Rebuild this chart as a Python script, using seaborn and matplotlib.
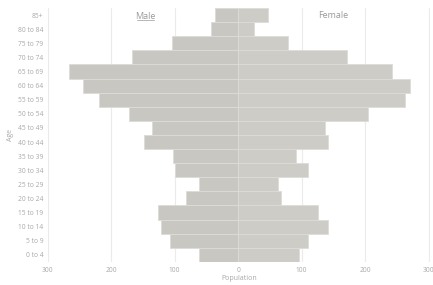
import matplotlib
matplotlib.use("Agg")
import matplotlib.pyplot as plt
import seaborn as sns
import pandas as pd
import numpy as np

age_groups = ["85+", "80 to 84", "75 to 79", "70 to 74", "65 to 69", "60 to 64",
              "55 to 59", "50 to 54", "45 to 49", "40 to 44", "35 to 39", "30 to 34",
              "25 to 29", "20 to 24", "15 to 19", "10 to 14", "5 to 9", "0 to 4"]
male = [37, 43, 104, 167, 266, 245, 219, 172, 136, 148, 102, 100, 62, 82, 126, 121, 107, 62]
female = [47, 25, 79, 171, 243, 270, 262, 205, 136, 141, 91, 110, 62, 68, 125, 141, 110, 95]
xticks = [-300, -200, -100, 0, 100, 200, 300]

sns.set_theme(style="white")
plt.rcParams['font.family'] = ['Open Sans', 'DejaVu Sans']

df = pd.DataFrame({"Age": age_groups, "Male": [-v for v in male], "Female": female})

fig = plt.figure(figsize=(4.33, 2.85), dpi=100)
ax = fig.add_axes([0.110, 0.081, 0.883, 0.891])

for x in xticks:
    if x != 0:
        ax.axvline(x, color="#ebebeb", lw=0.8, zorder=0)

sns.barplot(data=df, y="Age", x="Male", order=age_groups, color="#c8c7c2",
            saturation=1, width=1.0, edgecolor="#dddcd8", linewidth=0.6, ax=ax, zorder=2)
sns.barplot(data=df, y="Age", x="Female", order=age_groups, color="#cdccc7",
            saturation=1, width=1.0, edgecolor="#dddcd8", linewidth=0.6, ax=ax, zorder=2)

ax.set_xlim(-300, 302)
ax.set_ylim(len(age_groups) - 0.5, -0.5)
ax.set_xticks(xticks)
ax.set_xticklabels([str(abs(v)) for v in xticks])
tc = "#a8a8a8"
ax.tick_params(axis="both", labelsize=4.8, colors=tc, length=0, pad=3)
ax.tick_params(axis="x", pad=3.5)
ax.set_xlabel("Population", fontsize=5, color=tc, labelpad=1)
ax.set_ylabel("Age", fontsize=5, color=tc, labelpad=3)
for s in ax.spines.values():
    s.set_visible(False)

# gender headers
ax.text(-146, 0.1, "Male", ha="center", va="center", fontsize=6.5, color="#9a9a9a", zorder=5)
ax.plot([-160, -132], [0.33, 0.33], color="#9a9a9a", lw=0.5, zorder=5)
ax.text(149, 0.05, "Female", ha="center", va="center", fontsize=6.5, color="#9a9a9a", zorder=5)

fig.savefig("out.png", dpi=100)
